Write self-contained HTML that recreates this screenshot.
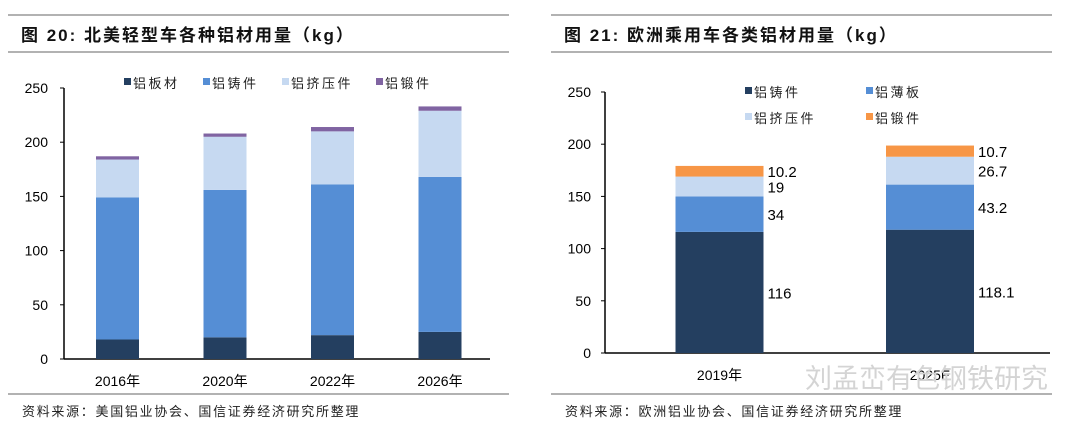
<!DOCTYPE html>
<html><head><meta charset="utf-8"><style>
body{margin:0;width:1080px;height:426px;background:#fff;overflow:hidden;font-family:"Liberation Sans","Noto Sans CJK SC",sans-serif;}
svg text{font-family:"Liberation Sans","Noto Sans CJK SC",sans-serif;}
</style></head><body>
<svg width="1080" height="426">
<g>
<line x1="8" y1="15" x2="509" y2="15" stroke="#666" stroke-width="1"/>
<line x1="8" y1="52" x2="509" y2="52" stroke="#666" stroke-width="1"/>
<text x="21" y="41" font-size="17" font-weight="bold" fill="#111" letter-spacing="2">图 20:  北美轻型车各种铝材用量（kg）</text>
<line x1="8" y1="394" x2="509" y2="394" stroke="#666" stroke-width="1"/>
<text x="22" y="416" font-size="13" fill="#222" letter-spacing="1.7">资料来源：美国铝业协会、国信证券经济研究所整理</text>
</g>
<g>
<line x1="551" y1="15" x2="1052" y2="15" stroke="#666" stroke-width="1"/>
<line x1="551" y1="52" x2="1052" y2="52" stroke="#666" stroke-width="1"/>
<text x="564" y="41" font-size="17" font-weight="bold" fill="#111" letter-spacing="2">图 21:  欧洲乘用车各类铝材用量（kg）</text>
<line x1="551" y1="394" x2="1052" y2="394" stroke="#666" stroke-width="1"/>
<text x="565" y="416" font-size="13" fill="#222" letter-spacing="1.7">资料来源：欧洲铝业协会、国信证券经济研究所整理</text>
</g>
<g id="left"></g>
<g id="right"></g>
<text x="805" y="388" font-size="27" fill="#d4d4d4">刘孟峦有色钢铁研究</text>
</svg>
<script>
const NS="http://www.w3.org/2000/svg";
const lCats=["2016年","2020年","2022年","2026年"];
const lPlate=[18,20,22,25];
const lCast=[131,136,139,143];
const lExtr=[35,49,49,61];
const lForge=[3,3,4,4];
const lTicks=[0,50,100,150,200,250];
const lNames=["铝板材","铝铸件","铝挤压件","铝锻件"];

const rCats=["2019年","2025E"];
const rCast=[116,118.1];
const rSheet=[34,43.2];
const rExtr=[19,26.7];
const rForge=[10.2,10.7];
const rTicks=[0,50,100,150,200,250];
const rNames=["铝铸件","铝薄板","铝挤压件","铝锻件"];

function mk(p,tag,a,txt){const e=document.createElementNS(NS,tag);for(const k in a)e.setAttribute(k,a[k]);if(txt!=null)e.textContent=txt;p.appendChild(e);return e;}

(function(){
 const g=document.getElementById('left');
 const y0=359,ppu=271/250,ax=64,x1=490;
 const y=v=>y0-v*ppu;
 const cx=i=>117.5+i*107.5;
 const colors=["#243f60","#558ed5","#c6d9f1","#8064a2"];
 const series=[lPlate,lCast,lExtr,lForge];
 mk(g,'line',{x1:ax,y1:y(250),x2:ax,y2:y0,stroke:'#000','stroke-width':1.5});
 mk(g,'line',{x1:ax,y1:y0,x2:x1,y2:y0,stroke:'#000','stroke-width':1.5});
 lTicks.forEach(t=>{
  mk(g,'line',{x1:ax-4,y1:y(t),x2:ax,y2:y(t),stroke:'#000'});
  const e=mk(g,'text',{x:ax-16,y:y(t)+5,'font-size':14,'text-anchor':'end',fill:'#000'},t);
  
  
 });
 lCats.forEach((c,i)=>{
  let acc=0;
  series.forEach((s,k)=>{
   const r=mk(g,'rect',{x:cx(i)-21.5,y:y(acc+s[i]),width:43,height:s[i]*ppu,fill:colors[k]});
   
   
   acc+=s[i];
  });
  const t=mk(g,'text',{x:cx(i),y:386,'font-size':14,'text-anchor':'middle',fill:'#000'},c);
  
  
 });
 const lx=[124,203,282,376];
 lNames.forEach((n,k)=>{
  const r=mk(g,'rect',{x:lx[k],y:78,width:7,height:7,fill:colors[k]});
  
  
  const t=mk(g,'text',{x:lx[k]+9,y:88,'font-size':13,fill:'#222','letter-spacing':2.5},n);
  
  
 });
})();

(function(){
 const g=document.getElementById('right');
 const y0=353,ppu=261/250,ax=605,x1=1050;
 const y=v=>y0-v*ppu;
 const cx=i=>719.5+i*210.5;
 const colors=["#243f60","#558ed5","#c6d9f1","#f79646"];
 const series=[rCast,rSheet,rExtr,rForge];
 mk(g,'line',{x1:ax,y1:y(250),x2:ax,y2:y0,stroke:'#000','stroke-width':1.5});
 mk(g,'line',{x1:ax,y1:y0,x2:x1,y2:y0,stroke:'#000','stroke-width':1.5});
 rTicks.forEach(t=>{
  mk(g,'line',{x1:ax-4,y1:y(t),x2:ax,y2:y(t),stroke:'#000'});
  const e=mk(g,'text',{x:ax-14,y:y(t)+5,'font-size':14,'text-anchor':'end',fill:'#000'},t);
  
  
 });
 rCats.forEach((c,i)=>{
  let acc=0;
  series.forEach((s,k)=>{
   const r=mk(g,'rect',{x:cx(i)-44,y:y(acc+s[i]),width:88,height:s[i]*ppu,fill:colors[k]});
   
   
   const lab=mk(g,'text',{x:cx(i)+48,y:y(acc+s[i]/2)+6,'font-size':15,fill:'#000'},s[i]);
   
   
   acc+=s[i];
  });
  const t=mk(g,'text',{x:cx(i),y:380,'font-size':14,'text-anchor':'middle',fill:'#000'},c);
  
  
 });
 const lp=[[745,87],[866,87],[745,113],[866,113]];
 rNames.forEach((n,k)=>{
  const r=mk(g,'rect',{x:lp[k][0],y:lp[k][1],width:7,height:7,fill:colors[k]});
  
  
  const t=mk(g,'text',{x:lp[k][0]+9,y:lp[k][1]+10,'font-size':13,fill:'#222','letter-spacing':2.5},n);
  
  
 });
})();
</script>
</body></html>
